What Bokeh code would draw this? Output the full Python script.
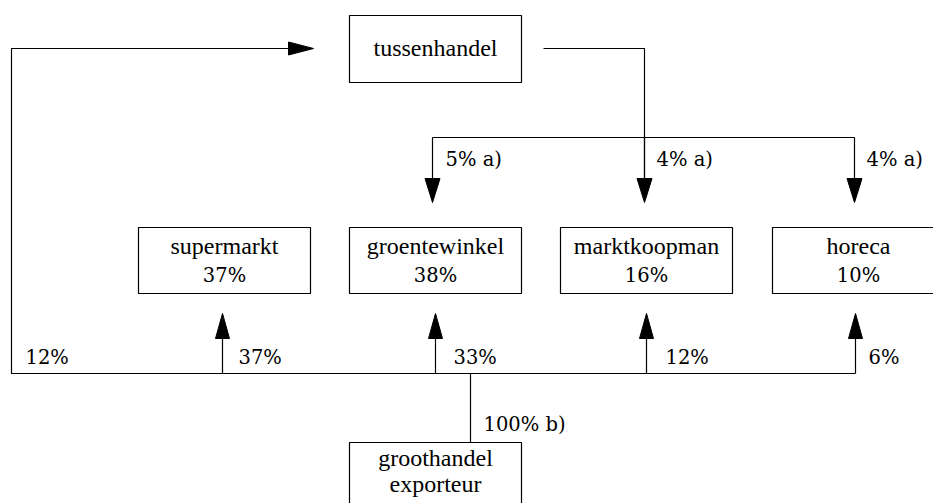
from bokeh.plotting import figure
from bokeh.models import Range1d
from bokeh.core.properties import value
from bokeh.embed import file_html
from bokeh.resources import INLINE

# ---- data ----
outlets = ["supermarkt", "groentewinkel", "marktkoopman", "horeca"]
outlet_share = [37, 38, 16, 10]          # share of total sales per outlet (%)
direct_share = [37, 33, 12, 6]           # delivered directly by groothandel (%)
via_tussen_outlets = ["groentewinkel", "marktkoopman", "horeca"]
via_tussen_share = [5, 4, 4]             # delivered via tussenhandel (%) a)
tussen_share = 12                        # groothandel -> tussenhandel (%)
groot_total = 100                        # groothandel / exporteur (%) b)

# ---- layout (pixel coordinates) ----
WORD_FONT, WORD_FS, WORD_SHIFT = "Liberation Serif", "24px", 9.5
NUM_FONT, NUM_FS, NUM_SHIFT = "DejaVu Serif", "19.5px", 7.9
LW = 1.2

p = figure(width=933, height=503, output_backend="svg", toolbar_location=None,
           x_range=Range1d(0, 933), y_range=Range1d(503, 0), min_border=0)
p.axis.visible = False
p.grid.visible = False
p.outline_line_color = None

box_left = {"supermarkt": 138, "groentewinkel": 349, "marktkoopman": 560, "horeca": 772}
box_w = 172
row_top, row_bot = 227, 293
arrow_up_x = {"supermarkt": 222, "groentewinkel": 435, "marktkoopman": 646, "horeca": 855}
arrow_dn_x = {"groentewinkel": 432, "marktkoopman": 644, "horeca": 854}
pct_label_x = {"supermarkt": 238, "groentewinkel": 453, "marktkoopman": 665, "horeca": 868}
dn_label_x = {"groentewinkel": 445, "marktkoopman": 656, "horeca": 866}

# boxes
bl, br, bt, bb = [], [], [], []
for o in outlets:
    bl.append(box_left[o]); br.append(box_left[o] + box_w); bt.append(row_top); bb.append(row_bot)
bl.append(349); br.append(521); bt.append(15); bb.append(82)      # tussenhandel
bl.append(349); br.append(521); bt.append(442); bb.append(560)    # groothandel
p.quad(left=bl, right=br, top=bt, bottom=bb, fill_color="white",
       line_color="black", line_width=LW)

# lines
xs, ys = [], []
heads_x, heads_y = [], []

def head(tipx, tipy, direction, length=24, half=7):
    if direction == "down":
        heads_x.append([tipx - half, tipx + half, tipx]); heads_y.append([tipy - length, tipy - length, tipy])
    elif direction == "up":
        heads_x.append([tipx - half, tipx + half, tipx]); heads_y.append([tipy + length, tipy + length, tipy])
    elif direction == "right":
        heads_x.append([tipx - length, tipx - length, tipx]); heads_y.append([tipy - half, tipy + half, tipy])

bottom_y = 373
xs.append([290, 11, 11, 855]); ys.append([48, 48, bottom_y, bottom_y])
head(313, 48, "right", length=25, half=6.5)
for o in outlets:
    x = arrow_up_x[o]
    xs.append([x, x]); ys.append([bottom_y, 314])
    head(x, 313, "up", length=25, half=7)
xs.append([470, 470]); ys.append([bottom_y, 442])
xs.append([543, 644, 644]); ys.append([48, 48, 190])
xs.append([432, 854]); ys.append([137, 137])
for o in via_tussen_outlets:
    x = arrow_dn_x[o]
    xs.append([x, x]); ys.append([137, 190])
    head(x, 202, "down", length=24, half=7.5)

p.multi_line(xs, ys, line_color="black", line_width=LW)
p.patches(heads_x, heads_y, fill_color="black", line_color="black", line_width=1)


def label(x, y, s, align, numeric=False):
    font, fs, shift = (NUM_FONT, NUM_FS, NUM_SHIFT) if numeric else (WORD_FONT, WORD_FS, WORD_SHIFT)
    p.text(x=[x], y=[y - shift], text=[s], text_align=align, text_baseline="alphabetic",
           text_font=value(font), text_font_size=fs, text_color="black")


# centred texts (inside boxes)
for o, s in zip(outlets, outlet_share):
    cx = box_left[o] + box_w / 2
    label(cx, 255, o, "center")
    label(cx, 283, f"{s}%", "center", numeric=True)
label(435, 57, "tussenhandel", "center")
label(435, 467, "groothandel", "center")
label(435, 493, "exporteur", "center")

# flow labels (left aligned)
label(25, 365, f"{tussen_share}%", "left", numeric=True)
for o, s in zip(outlets, direct_share):
    label(pct_label_x[o], 365, f"{s}%", "left", numeric=True)
for o, s in zip(via_tussen_outlets, via_tussen_share):
    label(dn_label_x[o], 167, f"{s}% a)", "left", numeric=True)
label(483, 432, f"{groot_total}% b)", "left", numeric=True)

open("out.html", "w").write(file_html(p, INLINE))
